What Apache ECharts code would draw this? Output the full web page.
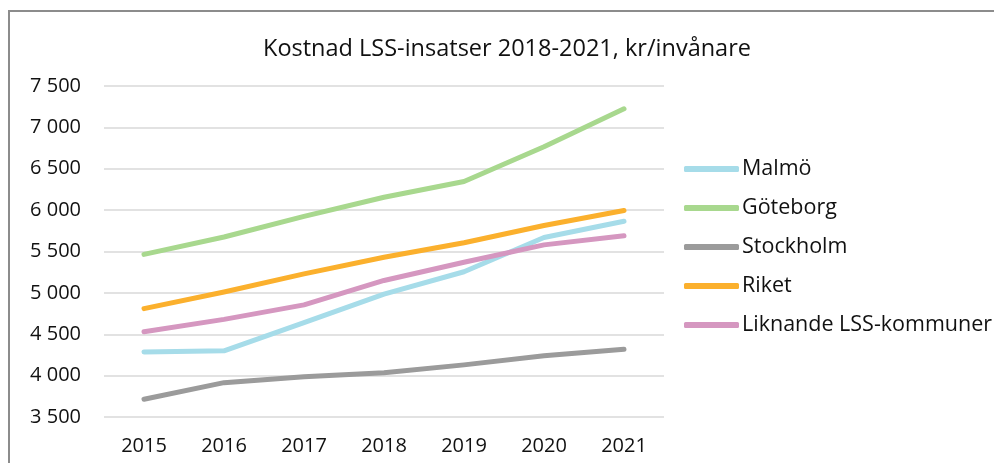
<!DOCTYPE html>
<html>
<head>
<meta charset="utf-8">
<script src="https://cdn.jsdelivr.net/npm/echarts@6/dist/echarts.min.js"></script>
<style>
  html, body { margin: 0; padding: 0; background: #fff; overflow: hidden; }
  #frame {
    position: absolute; left: 8px; top: 10px; width: 1100px; height: 520px;
    border: 2px solid #8c8c8c; box-sizing: border-box;
  }
  #chart { position: absolute; left: 0; top: 0; width: 994px; height: 463px; }
</style>
</head>
<body>
<div id="frame"></div>
<div id="chart"></div>
<script>
// kategorier (år)
const years = ['2015', '2016', '2017', '2018', '2019', '2020', '2021']

// kr/invånare
const malmo = [4285, 4300, 4640, 4985, 5255, 5670, 5865]
const goteborg = [5465, 5675, 5925, 6155, 6345, 6765, 7225]
const stockholm = [3715, 3915, 3985, 4035, 4130, 4240, 4320]
const riket = [4810, 5010, 5230, 5430, 5605, 5815, 5995]
const liknande = [4530, 4680, 4855, 5150, 5370, 5580, 5690]

const seriesNames = ['Malmö', 'Göteborg', 'Stockholm', 'Riket', 'Liknande LSS-kommuner']
const seriesValues = [malmo, goteborg, stockholm, riket, liknande]
const seriesColors = ['#a6dce9', '#a8d88e', '#9b9b9b', '#fbb02d', '#d597c0']

const fontFamily = '"Open Sans", "Noto Sans", sans-serif'

const chart = echarts.init(document.getElementById('chart'), null, { renderer: 'canvas' })

// tusentalsavgränsare med mellanslag
const fmt = v => String(v).replace(/\B(?=(\d{3})+(?!\d))/g, ' ')

const option = {
  animation: false,
  backgroundColor: 'transparent',
  title: {
    text: 'Kostnad LSS-insatser 2018-2021, kr/invånare',
    left: 258,
    top: 32,
    padding: 5,
    textStyle: { fontFamily, fontSize: 23.5, fontWeight: 'normal', color: '#111' }
  },
  legend: {
    orient: 'vertical',
    left: 684,
    top: 157,
    padding: 0,
    icon: 'roundRect',
    itemWidth: 55,
    itemHeight: 6,
    itemGap: 15,
    data: seriesNames,
    textStyle: { fontFamily, fontSize: 21.5, color: '#111', lineHeight: 24, padding: [0, 0, 0, -2] }
  },
  grid: { left: 104, right: 330, top: 86, bottom: 46, containLabel: false },
  xAxis: {
    type: 'category',
    data: years,
    axisLine: { show: false },
    axisTick: { show: false },
    axisLabel: { fontFamily, fontSize: 20, color: '#111', margin: 19 }
  },
  yAxis: {
    type: 'value',
    min: 3500,
    max: 7500,
    interval: 500,
    axisLine: { show: false },
    axisTick: { show: false },
    axisLabel: { fontFamily, fontSize: 20, color: '#111', margin: 23, formatter: fmt },
    splitLine: { lineStyle: { color: '#d9d9d9', width: 1.5 } }
  },
  series: seriesNames.map((name, i) => ({
    name,
    type: 'line',
    data: seriesValues[i],
    symbol: 'none',
    color: seriesColors[i],
    lineStyle: { width: 5, color: seriesColors[i], cap: 'round', join: 'round' }
  }))
}

chart.setOption(option)
</script>
</body>
</html>
